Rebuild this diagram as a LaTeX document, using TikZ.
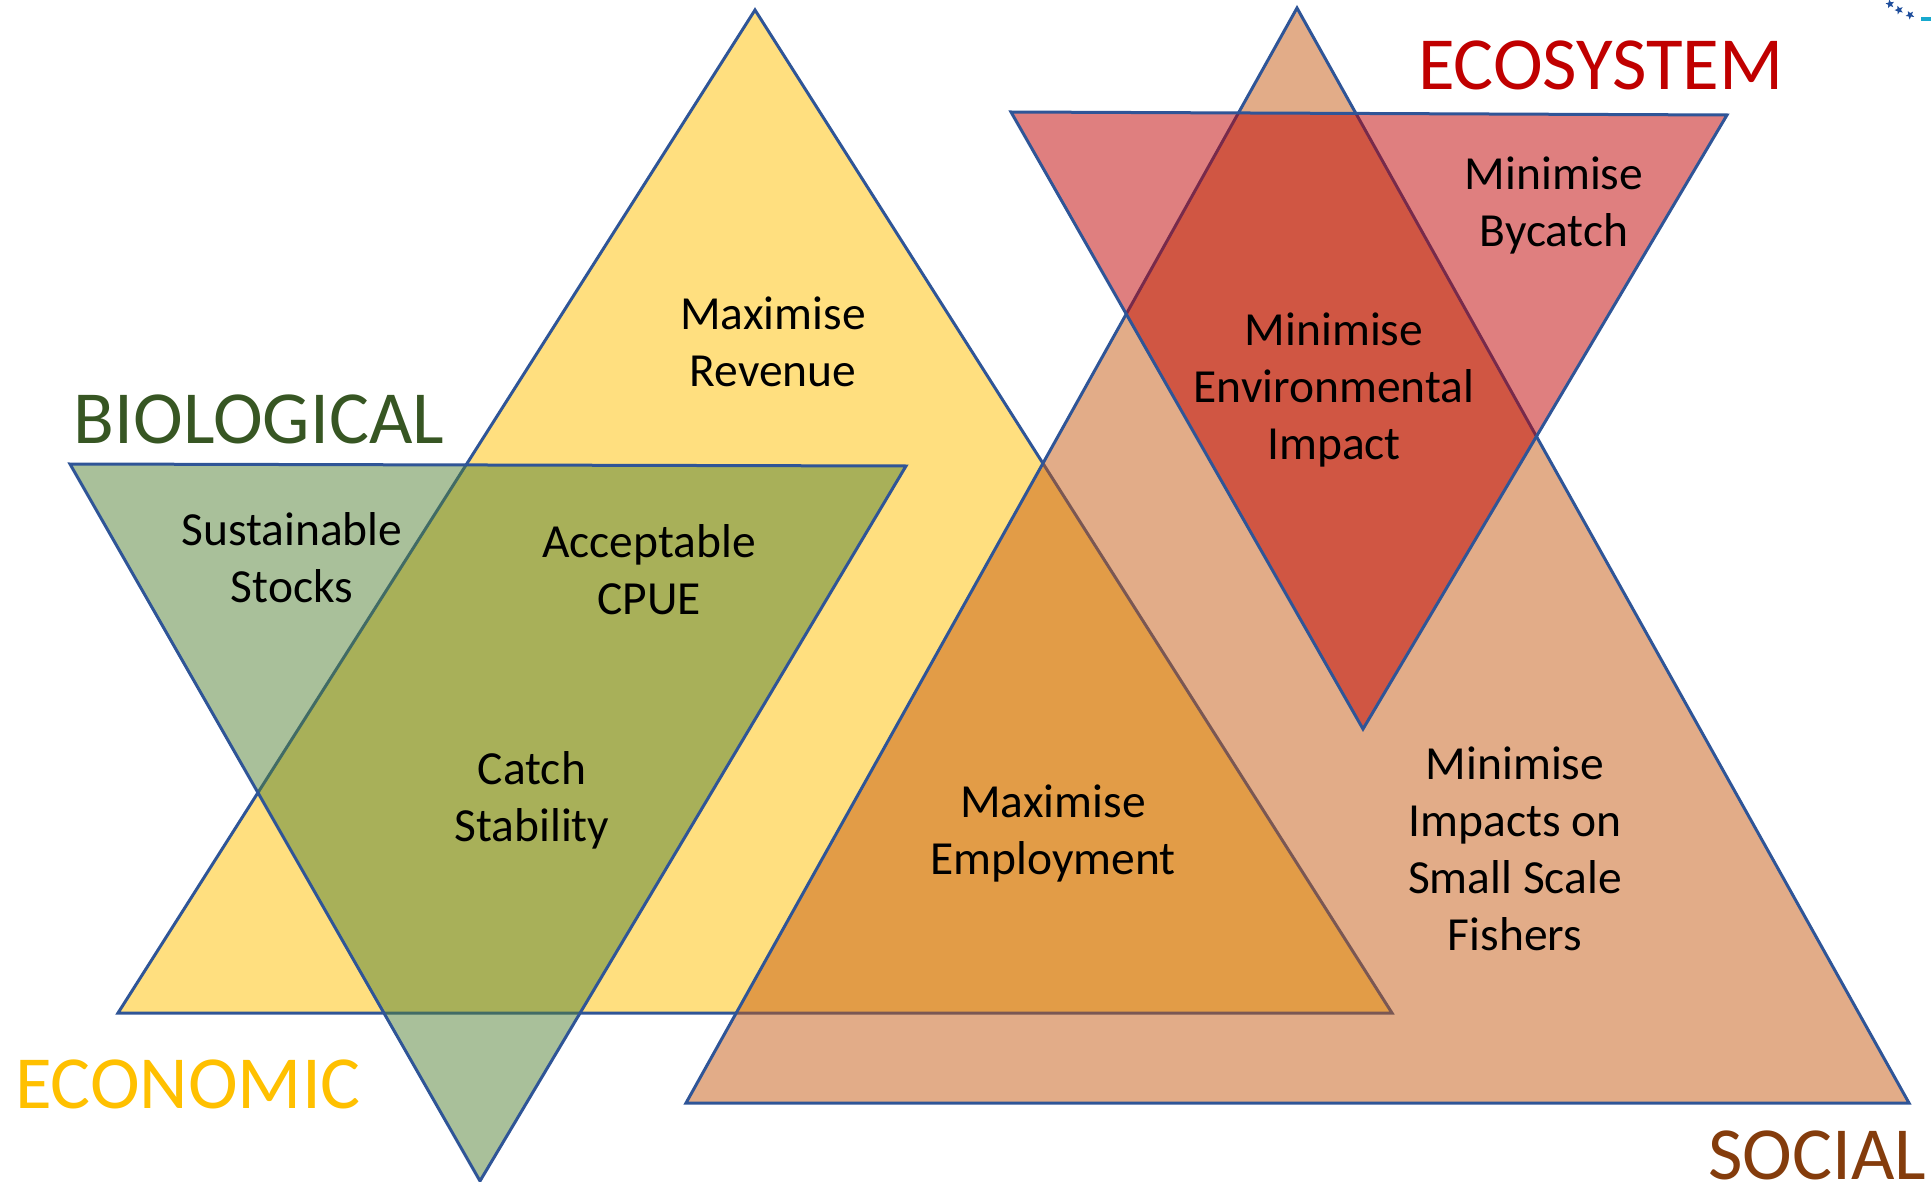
\documentclass[tikz,border=0pt]{standalone}
\usepackage{fontspec}
\setmainfont{Carlito}
\usetikzlibrary{shapes.geometric}
\definecolor{edgeblue}{HTML}{2F5597}
\definecolor{econfill}{HTML}{FFC000}
\definecolor{biofill}{HTML}{538135}
\definecolor{socfill}{HTML}{C55A11}
\definecolor{ecofill}{HTML}{C00000}
\definecolor{econtext}{HTML}{FFC000}
\definecolor{biotext}{HTML}{375623}
\definecolor{soctext}{HTML}{843C0C}
\definecolor{ecotext}{HTML}{C00000}
\definecolor{starblue}{HTML}{1F4E9C}
\definecolor{logocyan}{HTML}{17A9CE}
\begin{document}
\begin{tikzpicture}[x=1pt,y=-1pt,
  tri/.style={draw=edgeblue, line width=3pt, line join=miter, fill opacity=0.5},
  lbl/.style={font=\fontsize{47.5}{57}\selectfont, align=center, text=black, inner sep=0pt},
  heading/.style={font=\fontsize{75}{80}\selectfont, inner sep=0pt},
  logostar/.style={star, star points=5, star point ratio=2.3, fill=starblue, minimum size=9pt, inner sep=0pt}]
\useasboundingbox (0,0) rectangle (1931,1182);

% triangle corners
\coordinate (econA) at (755,10);
\coordinate (econL) at (118,1013);
\coordinate (econR) at (1392,1013);
\coordinate (bioL) at (70,464);
\coordinate (bioR) at (906,466);
\coordinate (bioB) at (480,1181);
\coordinate (socA) at (1297,8);
\coordinate (socL) at (686,1103);
\coordinate (socR) at (1909,1103);
\coordinate (ecoL) at (1011,112);
\coordinate (ecoR) at (1727,115);
\coordinate (ecoB) at (1363,729);

% the four overlapping triangles
\draw[tri, fill=econfill] (econA) -- (econR) -- (econL) -- cycle;
\draw[tri, fill=biofill] (bioL) -- (bioR) -- (bioB) -- cycle;
\draw[tri, fill=socfill] (socA) -- (socR) -- (socL) -- cycle;
\draw[tri, fill=ecofill] (ecoL) -- (ecoR) -- (ecoB) -- cycle;

% headings
\node[heading, text=ecotext] (hEco) at (1601,65) {ECOSYSTEM};
\node[heading, text=biotext] (hBio) at (259,419) {BIOLOGICAL};
\node[heading, text=econtext] (hEcon) at (188,1084) {ECONOMIC};
\node[heading, text=soctext] (hSoc) at (1817,1155) {SOCIAL};

% objectives
\node[lbl] (revenue) at (773,342) {Maximise\\Revenue};
\node[lbl] (stocks) at (292,558) {Sustainable\\Stocks};
\node[lbl] (cpue) at (649,570) {Acceptable\\CPUE};
\node[lbl] (catch) at (532,800) {Catch\\Stability};
\node[lbl] (employ) at (1053,833) {Maximise\\Employment};
\node[lbl] (bycatch) at (1554,205) {Minimise\\Bycatch};
\node[lbl] (envimp) at (1334,390) {Minimise\\Environmental\\Impact};
\node[lbl] (smallscale) at (1515,849) {Minimise\\Impacts on\\Small Scale\\Fishers};

% corner logo fragment
\node[logostar, rotate=10] (star1) at (1890,4) {};
\node[logostar, rotate=20] (star2) at (1899,10) {};
\node[logostar, rotate=30] (star3) at (1910,15) {};
\fill[logocyan] (1921,17) rectangle (1931,21);
\end{tikzpicture}
\end{document}
